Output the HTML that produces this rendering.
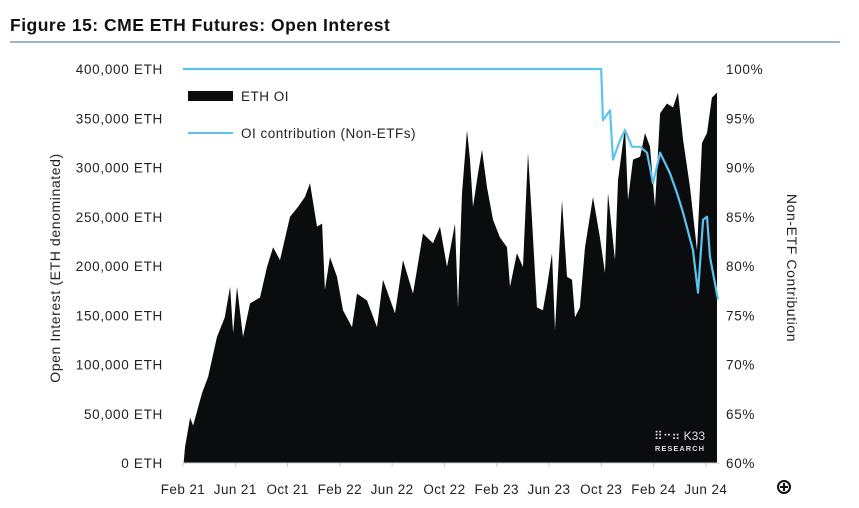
<!DOCTYPE html>
<html><head><meta charset="utf-8"><style>
body{margin:0;background:#fff;width:859px;height:503px;overflow:hidden;font-family:"Liberation Sans",sans-serif}
svg text{font-family:"Liberation Sans",sans-serif}
</style></head><body>
<svg id="chart" width="859" height="503">
<text x="10" y="31" font-size="17.5" font-weight="bold" fill="#111" letter-spacing="0.5">Figure 15: CME ETH Futures: Open Interest</text>
<line x1="10" y1="42" x2="840" y2="42" stroke="#7d9cbd" stroke-width="1.5"/>
<g id="marks"></g>
<g id="axes"></g>
<text transform="translate(60,268) rotate(-90)" text-anchor="middle" font-size="14" letter-spacing="0.6" fill="#222">Open Interest (ETH denominated)</text>
<text transform="translate(787,268) rotate(90)" text-anchor="middle" font-size="14" letter-spacing="0.6" fill="#222">Non-ETF Contribution</text>
<rect x="188" y="91" width="45" height="10" fill="#0b0c0e"/>
<text x="241" y="101" font-size="13.5" letter-spacing="0.5" fill="#222">ETH OI</text>
<line x1="188" y1="133" x2="233" y2="133" stroke="#5bc3ee" stroke-width="2"/>
<text x="241" y="138" font-size="13.5" letter-spacing="0.5" fill="#222">OI contribution (Non-ETFs)</text>
<g>
<text x="705" y="440" text-anchor="end" font-size="12" fill="#ddd">⠿⠒⠶ K33</text>
<text x="705" y="451" text-anchor="end" font-size="7.5" font-weight="bold" fill="#ddd" letter-spacing="1">RESEARCH</text>
</g>
<g><circle cx="784" cy="487" r="6" fill="none" stroke="#111" stroke-width="2"/><path d="M784 483v8M780 487h8" stroke="#111" stroke-width="2"/></g>
</svg>
<script>
const oiMonths=[0.15,0.54,0.77,1.45,1.91,2.6,3.2,3.6,3.83,4.13,4.59,5.13,5.89,6.43,6.89,7.42,8.19,8.8,9.33,9.72,10.25,10.64,10.86,11.25,11.78,12.24,12.93,13.31,14.08,14.84,15.3,16.22,16.83,17.6,18.36,19.13,19.66,20.2,20.81,21.04,21.35,21.73,21.96,22.19,22.57,22.88,23.26,23.72,24.25,24.79,25.02,25.55,26.01,26.4,26.7,27.08,27.54,27.85,28.23,28.46,29.0,29.38,29.76,29.99,30.37,30.76,31.37,31.9,32.29,32.52,33.05,33.28,33.82,34.05,34.43,34.97,35.35,35.73,36.11,36.5,37.03,37.49,37.87,38.26,38.79,39.33,39.71,40.09,40.47,40.86];
const oiValues=[16,46,38,71,87,128,148,179,132,179,128,162,168,199,219,206,250,260,270,284,240,243,176,209,189,155,138,172,165,138,186,152,206,172,233,223,240,199,243,158,274,338,308,260,294,318,280,247,229,219,179,213,199,315,247,158,155,179,213,135,267,189,186,148,158,219,270,229,193,274,206,287,341,267,308,311,335,321,260,355,365,361,376,328,280,216,325,335,371,376];
const pctMonths=[0,32.0,32.13,32.67,32.9,33.44,33.82,34.35,34.97,35.5,35.96,36.5,37.26,37.8,38.26,39.02,39.4,39.79,40.09,40.32,40.93];
const pctValues=[100,100,94.8,95.8,90.8,92.8,93.8,92.1,92.1,91.5,88.4,91.5,89.4,87.4,85.4,81.6,77.3,84.7,85.0,80.9,76.6];
const leftTicks=[0,50000,100000,150000,200000,250000,300000,350000,400000];
const rightTicks=[60,65,70,75,80,85,90,95,100];
const xTickLabels=["Feb 21","Jun 21","Oct 21","Feb 22","Jun 22","Oct 22","Feb 23","Jun 23","Oct 23","Feb 24","Jun 24"];
const xTickMonths=[0,4,8,12,16,20,24,28,32,36,40];
const NS="http://www.w3.org/2000/svg";
const x=m=>183+m*13.07;
const yL=v=>463-v/400000*394;
const yR=p=>463-(p-60)/40*394;
const marks=document.getElementById('marks'),axes=document.getElementById('axes');
function mk(tag,attrs,parent){const e=document.createElementNS(NS,tag);for(const k in attrs)e.setAttribute(k,attrs[k]);parent.appendChild(e);return e;}
let d="M"+x(oiMonths[0]-0.1)+" "+yL(0);
oiMonths.forEach((m,i)=>{d+=" L"+x(m).toFixed(1)+" "+yL(oiValues[i]*1000).toFixed(1);});
d+=" L"+x(oiMonths[oiMonths.length-1]).toFixed(1)+" "+yL(0)+"Z";
const area=mk('path',{d:d,fill:'#0b0c0e'},marks);


const pts=pctMonths.map((m,i)=>x(m).toFixed(1)+","+yR(pctValues[i]).toFixed(1)).join(" ");
const line=mk('polyline',{points:pts,fill:'none',stroke:'#5bc3ee','stroke-width':2.2,'stroke-linejoin':'round'},marks);


const base=mk('line',{x1:183,y1:463,x2:720,y2:463,stroke:'#ccc'},axes);


leftTicks.forEach(v=>{const t=mk('text',{x:163,y:yL(v)+5,'text-anchor':'end','font-size':13.5,'letter-spacing':0.7,fill:'#222'},axes);t.textContent=v.toLocaleString('en-US')+" ETH";

});
rightTicks.forEach(p=>{const t=mk('text',{x:726,y:yR(p)+5,'font-size':13.5,'letter-spacing':0.7,fill:'#222'},axes);t.textContent=p+"%";

});
xTickLabels.forEach((l,i)=>{const xx=x(xTickMonths[i]);mk('line',{x1:xx,y1:463,x2:xx,y2:467,stroke:'#ccc'},axes);
const t=mk('text',{x:xx,y:494,'text-anchor':'middle','font-size':13.5,'letter-spacing':0.4,fill:'#222'},axes);t.textContent=l;

});
</script>
</body></html>
